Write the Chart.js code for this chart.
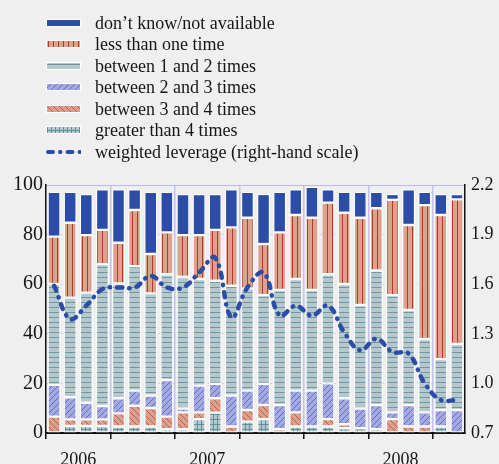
<!DOCTYPE html>
<html><head><meta charset="utf-8">
<script src="https://cdn.jsdelivr.net/npm/chart.js@4.4.0/dist/chart.umd.min.js"></script>
<style>
html,body{margin:0;padding:0;background:#efefef;}
#wrap{position:relative;width:499px;height:464px;overflow:hidden;background:#efefef;}
#c{position:absolute;left:0;top:0;}
#legend{position:absolute;left:0;top:0;font-family:"Liberation Serif","Times New Roman",serif;font-size:18px;color:#161616;}
.row{position:absolute;left:46px;height:22px;width:420px;white-space:nowrap;}
.row canvas{position:absolute;left:0;top:7px;}
.row span{position:absolute;left:49px;top:0;line-height:22px;}
</style></head>
<body>
<div id="wrap">
<canvas id="c" width="499" height="464"></canvas>
<div id="legend"></div>
</div>
<script>
// ---- data ----
const categories = ['P01','P02','P03','P04','P05','P06','P07','P08','P09','P10','P11','P12','P13',
                    'P14','P15','P16','P17','P18','P19','P20','P21','P22','P23','P24','P25','P26'];
const xTickLabels = ['','','2006','','','','','','','','2007','','','','','','','','','','','','2008','','',''];
const leftTicks = [0,20,40,60,80,100];
const rightTicks = [0.7,1.0,1.3,1.6,1.9,2.2];

const greaterThan4 = [0,2.8,2.8,2.8, 2.6,2.6,2.6,1.5, 1.5,5.6,8.2,0, 4.6,5.6,0,2.6, 2.6,2.6,1.9,1.9, 1.5,0,0,0, 2.6,0];
const between3and4 = [6.6,2.7,2.7,2.7, 5.3,8.4,7.5,5.1, 6.8,2.7,5.8,2.6, 4.7,5.7,1.5,5.7, 0,3.0,1.6,0, 0,5.6,2.6,2.6, 0,0];
const between2and3 = [12.8,8.9,6.7,5.4, 6.1,6.1,5.0,14.8, 1.6,10.8,5.8,12.5, 7.8,8.5,9.8,8.8, 14.5,14.4,10.5,8.0, 9.8,2.7,8.7,5.7, 6.7,9.3];
const between1and2 = [40.7,40.2,44.4,57.2, 46.3,50.2,41.2,42.6, 53.1,43.0,41.6,44.3, 41.2,35.8,46.4,45.0, 40.6,44.0,46.1,41.7, 54.2,47.3,38.3,29.6, 20.5,26.6];
const lessThanOne = [19.1,30.2,23.2,13.8, 16.4,22.6,15.9,16.9, 16.8,17.7,20.5,23.5, 28.5,20.6,23.2,25.8, 29.1,28.9,28.7,35.2, 25.1,38.4,34.3,54.0, 58.1,58.3];
const dontKnow = [18.1,12.5,16.6,16.4, 21.6,8.4,25.1,16.4, 16.6,16.6,14.5,15.4, 10.5,20.2,16.4,10.4, 12.5,5.4,8.5,10.5, 6.7,2.4,14.4,5.4, 8.5,2.2];
const leverage = [1.59,1.39,1.47,1.57, 1.58,1.58,1.65,1.58, 1.58,1.67,1.76,1.40, 1.58,1.67,1.41,1.47, 1.41,1.47,1.31,1.20, 1.27,1.19,1.18,1.00, 0.90,0.90];

// ---- patterns ----
function pat(kind){
  const c=document.createElement('canvas'); const x=c.getContext('2d');
  if(kind==='vlines'){ c.width=5;c.height=5; x.fillStyle='#dba28f';x.fillRect(0,0,5,5); x.fillStyle='#b63a22';x.fillRect(2,0,1,5); }
  else if(kind==='hlines'){ c.width=5;c.height=5; x.fillStyle='#b7c8cc';x.fillRect(0,0,5,5); x.fillStyle='#6b98a3';x.fillRect(0,2,5,1); }
  else if(kind==='fwd'){ c.width=6;c.height=6; x.fillStyle='#a4aadf';x.fillRect(0,0,6,6); x.strokeStyle='#4c5ec0';x.lineWidth=0.8;
    x.beginPath(); x.moveTo(0,6);x.lineTo(6,0); x.moveTo(-1,1);x.lineTo(1,-1); x.moveTo(5,7);x.lineTo(7,5); x.stroke(); }
  else if(kind==='back'){ c.width=6;c.height=6; x.fillStyle='#daa08d';x.fillRect(0,0,6,6); x.strokeStyle='#c24a33';x.lineWidth=0.8;
    x.beginPath(); x.moveTo(0,0);x.lineTo(6,6); x.moveTo(-1,5);x.lineTo(1,7); x.moveTo(5,-1);x.lineTo(7,1); x.stroke(); }
  else if(kind==='grid'){ c.width=4;c.height=5; x.fillStyle='#b7c8cc';x.fillRect(0,0,4,5); x.fillStyle='#5f8f9a';x.fillRect(1,0,1,5); x.fillRect(0,4,4,1); }
  return x.createPattern(c,'repeat');
}
const dk = '#2b4ca7';
const lineDash = [5,7,0.5,7];

const barSets = [
  {label:'greater than 4 times', data:greaterThan4, bg:pat('grid')},
  {label:'between 3 and 4 times', data:between3and4, bg:pat('back')},
  {label:'between 2 and 3 times', data:between2and3, bg:pat('fwd')},
  {label:'between 1 and 2 times', data:between1and2, bg:pat('hlines')},
  {label:'less than one time', data:lessThanOne, bg:pat('vlines')},
  {label:'don\u2019t know/not available', data:dontKnow, bg:dk}
];

const datasets = [{
  type:'line', label:'weighted leverage (right-hand scale)', data:leverage, yAxisID:'y1',
  borderColor:dk, borderWidth:4.5, borderDash:lineDash, borderCapStyle:'round',
  pointRadius:0, tension:0.4, fill:false, order:0
}].concat(barSets.map(s=>({
  type:'bar', label:s.label, data:s.data, backgroundColor:s.bg, yAxisID:'y',
  borderColor:'#ffffff', borderWidth:1.2, borderSkipped:false, order:1,
  categoryPercentage:1, barPercentage:0.8
})));

const fam = '"Liberation Serif","Times New Roman",serif';
const font = {family:fam, size:18};
const textColor = '#161616';

new Chart(document.getElementById('c'), {
  type:'bar',
  data:{labels:categories, datasets:datasets},
  options:{
    responsive:false, animation:false, devicePixelRatio:1,
    layout:{padding:{top:185,left:0,right:0,bottom:0}},
    plugins:{legend:{display:false}, tooltip:{enabled:false}},
    scales:{
      x:{
        stacked:true,
        grid:{offset:true, lineWidth:1.5,
          color:ctx=>(ctx.index!==undefined && ctx.index>0 && ctx.index%4===0)?'#c3c3ec':'rgba(0,0,0,0)',
          tickColor:ctx=>(ctx.index!==undefined && ctx.index%4===0)?'#111':'rgba(0,0,0,0)',
          tickLength:6, tickWidth:1.5},
        border:{color:'#111', width:2},
        ticks:{autoSkip:false, maxRotation:0, minRotation:0, labelOffset:-8.06, padding:10,
          font:font, color:textColor, callback:(v,i)=>xTickLabels[i]},
        afterFit:s=>{s.height=31;}
      },
      y:{
        position:'left', stacked:true, min:0, max:100,
        afterBuildTicks:s=>{s.ticks=leftTicks.map(v=>({value:v}));},
        grid:{drawTicks:false, lineWidth:1,
          color:ctx=>{const v=ctx.tick?ctx.tick.value:null; return v===0?'rgba(0,0,0,0)':(v===100?'#babae8':'#c4c4ec');}},
        border:{color:'#111', width:1.5, dash:ctx=>(ctx.tick && ctx.tick.value===100)?[]:[2,5]},
        ticks:{padding:3, font:{family:fam, size:20}, color:textColor},
        afterFit:s=>{s.width=46;}
      },
      y1:{
        position:'right', min:0.7, max:2.2,
        afterBuildTicks:s=>{s.ticks=rightTicks.map(v=>({value:v}));},
        grid:{drawOnChartArea:false, drawTicks:false},
        border:{color:'#111', width:1.5},
        ticks:{padding:6, font:font, color:textColor, callback:v=>Number(v).toFixed(1)},
        afterFit:s=>{s.width=34;}
      }
    }
  }
});

// ---- legend ----
const legendItems = barSets.slice().reverse().map(s=>({label:s.label, bg:s.bg, line:false}))
  .concat([{label:'weighted leverage (right-hand scale)', line:true}]);
const rowCenters = [22.7,44.3,65.7,87.3,108.5,130,151.7];
const leg = document.getElementById('legend');
legendItems.forEach((it,i)=>{
  const row=document.createElement('div'); row.className='row'; row.style.top=(rowCenters[i]-11)+'px';
  const cv=document.createElement('canvas'); cv.width=35; cv.height=8;
  const g=cv.getContext('2d');
  if(it.line){
    g.strokeStyle=dk; g.lineWidth=4; g.lineCap='round'; g.setLineDash(lineDash);
    g.beginPath(); g.moveTo(2,4); g.lineTo(34,4); g.stroke();
  } else {
    g.fillStyle=it.bg; g.fillRect(0,0,35,8);
    g.strokeStyle='#ffffff'; g.lineWidth=1; g.strokeRect(0.5,0.5,34,7);
  }
  const sp=document.createElement('span'); sp.textContent=it.label;
  row.appendChild(cv); row.appendChild(sp); leg.appendChild(row);
});
</script>
</body></html>
